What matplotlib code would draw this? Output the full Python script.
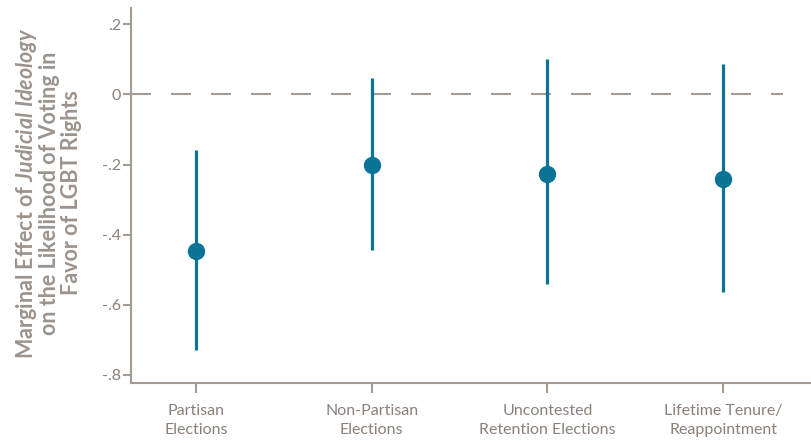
import matplotlib
matplotlib.use("Agg")
import matplotlib.pyplot as plt

categories = ["Partisan\nElections", "Non-Partisan\nElections",
              "Uncontested\nRetention Elections", "Lifetime Tenure/\nReappointment"]
estimates = [-0.446, -0.202, -0.226, -0.240]
ci_low = [-0.730, -0.444, -0.540, -0.564]
ci_high = [-0.159, 0.048, 0.100, 0.086]
yticks = [0.2, 0.0, -0.2, -0.4, -0.6, -0.8]
yticklabels = [".2", "0", "-.2", "-.4", "-.6", "-.8"]

plt.rcParams['font.family'] = ['Lato', 'DejaVu Sans']
plt.rcParams['mathtext.fontset'] = 'custom'
plt.rcParams['mathtext.rm'] = 'Lato:bold'
plt.rcParams['mathtext.it'] = 'Lato:italic:bold'

teal = "#0b7396"
axis_col = "#a59b93"
text_col = "#8c8079"
label_col = "#9c938c"

fig = plt.figure(figsize=(8.11, 4.43), dpi=100)
ax = fig.add_axes([131/811, 60/443, 1 - 131/811, (383-8)/443])

x = list(range(len(categories)))
ax.set_xlim(-0.37, 3.50)
ax.set_ylim(-0.824, 0.247)

ax.axhline(0, xmin=0, xmax=(783-131)/(811-131), color="#a89a90", lw=1.5,
           linestyle=(0, (9.6, 9.6)), zorder=1)

for xi, e, lo, hi in zip(x, estimates, ci_low, ci_high):
    ax.vlines(xi, lo, hi, color=teal, lw=2.3, zorder=2)
ax.plot(x, estimates, 'o', color=teal, markersize=11.5, zorder=3)

for s in ['top', 'right']:
    ax.spines[s].set_visible(False)
for s in ['left', 'bottom']:
    ax.spines[s].set_color(axis_col)
    ax.spines[s].set_linewidth(1.5)

ax.set_yticks(yticks)
ax.set_yticklabels(yticklabels)
ax.set_xticks(x)
ax.set_xticklabels(categories, linespacing=1.5)
ax.tick_params(axis='y', colors=axis_col, labelcolor=text_col, length=6, width=1.5,
               labelsize=11.5, pad=1)
ax.tick_params(axis='x', colors=axis_col, labelcolor=text_col, length=7, width=1.5,
               labelsize=11.5, pad=8)

fig.text(48/811, 1 - 193/443,
         "Marginal Effect of $\\mathit{Judicial\\ Ideology}$\non the Likelihood of Voting in\nFavor of LGBT Rights",
         rotation=90, ha='center', va='center', multialignment='center',
         fontsize=15.5, fontweight='bold', color=label_col, linespacing=1.03)

fig.savefig("out.png", dpi=100)
